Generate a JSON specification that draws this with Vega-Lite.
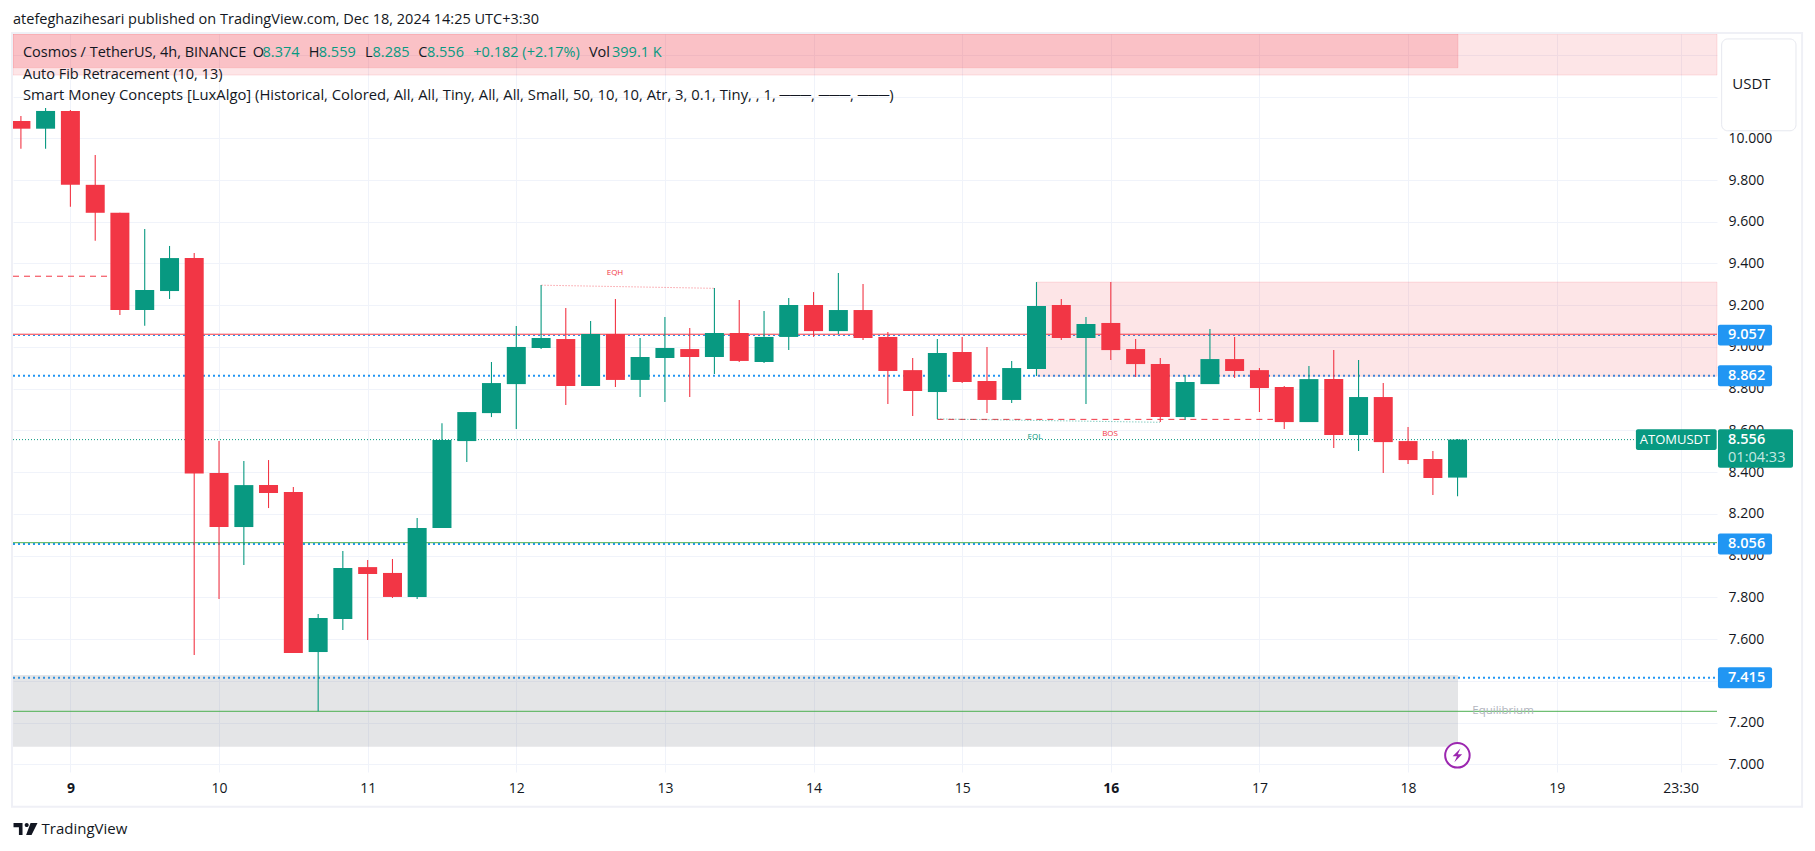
{"$schema":"https://vega.github.io/schema/vega-lite/v6.json","width":1704,"height":738,"autosize":"none","padding":{"left":13,"top":34,"right":98,"bottom":79},"background":"white","config":{"view":{"stroke":null}},
"datasets":{"candles":[
{"x":8.667,"o":10.083,"h":10.107,"l":9.95,"c":10.046,"dir":"down"},
{"x":8.833,"o":10.046,"h":10.145,"l":9.95,"c":10.131,"dir":"up"},
{"x":9,"o":10.131,"h":10.135,"l":9.672,"c":9.777,"dir":"down"},
{"x":9.167,"o":9.777,"h":9.92,"l":9.509,"c":9.643,"dir":"down"},
{"x":9.333,"o":9.643,"h":9.643,"l":9.153,"c":9.177,"dir":"down"},
{"x":9.5,"o":9.177,"h":9.565,"l":9.102,"c":9.273,"dir":"up"},
{"x":9.667,"o":9.268,"h":9.484,"l":9.23,"c":9.426,"dir":"up"},
{"x":9.833,"o":9.426,"h":9.45,"l":7.524,"c":8.393,"dir":"down"},
{"x":10,"o":8.396,"h":8.549,"l":7.792,"c":8.137,"dir":"down"},
{"x":10.167,"o":8.137,"h":8.453,"l":7.955,"c":8.338,"dir":"up"},
{"x":10.333,"o":8.338,"h":8.458,"l":8.228,"c":8.3,"dir":"down"},
{"x":10.5,"o":8.305,"h":8.329,"l":7.533,"c":7.533,"dir":"down"},
{"x":10.667,"o":7.538,"h":7.72,"l":7.254,"c":7.701,"dir":"up"},
{"x":10.833,"o":7.696,"h":8.022,"l":7.644,"c":7.941,"dir":"up"},
{"x":11,"o":7.945,"h":7.979,"l":7.596,"c":7.912,"dir":"down"},
{"x":11.167,"o":7.917,"h":7.984,"l":7.797,"c":7.802,"dir":"down"},
{"x":11.333,"o":7.802,"h":8.18,"l":7.792,"c":8.132,"dir":"up"},
{"x":11.5,"o":8.132,"h":8.635,"l":8.132,"c":8.554,"dir":"up"},
{"x":11.667,"o":8.549,"h":8.688,"l":8.449,"c":8.688,"dir":"up"},
{"x":11.833,"o":8.683,"h":8.928,"l":8.664,"c":8.827,"dir":"up"},
{"x":12,"o":8.822,"h":9.1,"l":8.607,"c":9,"dir":"up"},
{"x":12.167,"o":8.995,"h":9.297,"l":8.99,"c":9.043,"dir":"up"},
{"x":12.333,"o":9.038,"h":9.187,"l":8.722,"c":8.813,"dir":"down"},
{"x":12.5,"o":8.813,"h":9.124,"l":8.813,"c":9.062,"dir":"up"},
{"x":12.667,"o":9.062,"h":9.23,"l":8.808,"c":8.842,"dir":"down"},
{"x":12.833,"o":8.842,"h":9.043,"l":8.76,"c":8.952,"dir":"up"},
{"x":13,"o":8.947,"h":9.143,"l":8.736,"c":8.995,"dir":"up"},
{"x":13.167,"o":8.99,"h":9.091,"l":8.76,"c":8.952,"dir":"down"},
{"x":13.333,"o":8.952,"h":9.282,"l":8.87,"c":9.067,"dir":"up"},
{"x":13.5,"o":9.067,"h":9.225,"l":8.928,"c":8.933,"dir":"down"},
{"x":13.667,"o":8.928,"h":9.172,"l":8.923,"c":9.048,"dir":"up"},
{"x":13.833,"o":9.048,"h":9.235,"l":8.985,"c":9.201,"dir":"up"},
{"x":14,"o":9.201,"h":9.263,"l":9.048,"c":9.076,"dir":"down"},
{"x":14.167,"o":9.076,"h":9.354,"l":9.062,"c":9.177,"dir":"up"},
{"x":14.333,"o":9.177,"h":9.302,"l":9.033,"c":9.043,"dir":"down"},
{"x":14.5,"o":9.048,"h":9.072,"l":8.727,"c":8.885,"dir":"down"},
{"x":14.667,"o":8.889,"h":8.947,"l":8.669,"c":8.789,"dir":"down"},
{"x":14.833,"o":8.784,"h":9.038,"l":8.655,"c":8.971,"dir":"up"},
{"x":15,"o":8.976,"h":9.048,"l":8.827,"c":8.832,"dir":"down"},
{"x":15.167,"o":8.837,"h":9,"l":8.683,"c":8.746,"dir":"down"},
{"x":15.333,"o":8.746,"h":8.933,"l":8.731,"c":8.899,"dir":"up"},
{"x":15.5,"o":8.894,"h":9.311,"l":8.861,"c":9.196,"dir":"up"},
{"x":15.667,"o":9.201,"h":9.23,"l":9.033,"c":9.043,"dir":"down"},
{"x":15.833,"o":9.043,"h":9.143,"l":8.727,"c":9.11,"dir":"up"},
{"x":16,"o":9.115,"h":9.311,"l":8.937,"c":8.985,"dir":"down"},
{"x":16.167,"o":8.99,"h":9.038,"l":8.856,"c":8.918,"dir":"down"},
{"x":16.333,"o":8.918,"h":8.947,"l":8.64,"c":8.664,"dir":"down"},
{"x":16.5,"o":8.664,"h":8.866,"l":8.65,"c":8.832,"dir":"up"},
{"x":16.667,"o":8.822,"h":9.086,"l":8.822,"c":8.942,"dir":"up"},
{"x":16.833,"o":8.942,"h":9.048,"l":8.851,"c":8.885,"dir":"down"},
{"x":17,"o":8.889,"h":8.899,"l":8.688,"c":8.803,"dir":"down"},
{"x":17.167,"o":8.808,"h":8.813,"l":8.607,"c":8.64,"dir":"down"},
{"x":17.333,"o":8.64,"h":8.909,"l":8.64,"c":8.846,"dir":"up"},
{"x":17.5,"o":8.846,"h":8.985,"l":8.516,"c":8.578,"dir":"down"},
{"x":17.667,"o":8.578,"h":8.937,"l":8.501,"c":8.76,"dir":"up"},
{"x":17.833,"o":8.76,"h":8.827,"l":8.396,"c":8.544,"dir":"down"},
{"x":18,"o":8.549,"h":8.616,"l":8.439,"c":8.458,"dir":"down"},
{"x":18.167,"o":8.463,"h":8.501,"l":8.29,"c":8.372,"dir":"down"},
{"x":18.333,"o":8.374,"h":8.559,"l":8.285,"c":8.556,"dir":"up"}
]},
"encoding":{
"x":{"field":"x","type":"quantitative","title":null,"scale":{"domain":[8.6138,20.0786],"nice":false,"zero":false,"padding":0},"axis":{"values":[9,10,11,12,13,14,15,16,17,18,19,19.834],"labelExpr":"datum.value>19.5?'23:30':format(datum.value,'d')","title":null,"domain":false,"ticks":false,"grid":true,"gridColor":"#f0f3fa","gridWidth":1,"labelFont":"Open Sans","labelFontSize":14,"labelColor":"#131722","labelPadding":9,"labelOverlap":false,"labelFontWeight":{"expr":"datum.value==9||datum.value==16?'bold':'normal'"}}},
"y":{"field":"y","type":"quantitative","title":null,"scale":{"domain":[6.9631,10.4998],"nice":false,"zero":false},"axis":{"orient":"right","values":[7,7.2,7.4,7.6,7.8,8,8.2,8.4,8.6,8.8,9,9.2,9.4,9.6,9.8,10,10.2,10.4],"format":".3f","title":null,"domain":false,"ticks":false,"grid":true,"gridColor":"#f0f3fa","gridWidth":1,"labelFont":"Open Sans","labelFontSize":14,"labelColor":"#131722","labelPadding":11,"labelOverlap":false,"labelAlign":"left","labelBaseline":"middle"}}
},
"layer":[
{"data":{"values":[{"x":8.6138,"x2":20.0786,"y":8.862},{"x":8.6138,"x2":20.0786,"y":8.056},{"x":8.6138,"x2":20.0786,"y":7.415}]},"mark":{"type":"rule","color":"#2196f3","strokeWidth":2,"strokeDash":[2,3]},"encoding":{"x2":{"field":"x2"}}},
{"data":{"values":[{"x":8.6138,"x2":20.0786,"y":9.055}]},"mark":{"type":"rule","color":"#2196f3","strokeWidth":1.2,"strokeDash":[2,3]},"encoding":{"x2":{"field":"x2"}}},
{"data":{"values":[{"x":8.6138,"x2":20.0786,"y":10.4998,"y2":10.303},{"x":8.6138,"x2":18.336,"y":10.4998,"y2":10.338},{"x":15.499,"x2":20.0786,"y":9.311,"y2":8.86}]},"mark":{"type":"rect","fill":"#f23645","fillOpacity":0.13,"stroke":"#f23645","strokeOpacity":0.13,"strokeWidth":1},"encoding":{"x2":{"field":"x2"},"y2":{"field":"y2"}}},
{"data":{"values":[{"x":8.6138,"x2":18.336,"y":7.428,"y2":7.084}]},"mark":{"type":"rect","fill":"#787b86","fillOpacity":0.2},"encoding":{"x2":{"field":"x2"},"y2":{"field":"y2"}}},
{"data":{"values":[{"x":8.6138,"x2":18.336,"y":10.4998,"y2":10.338}]},"mark":{"type":"rect","fill":"#f23645","fillOpacity":0.08},"encoding":{"x2":{"field":"x2"},"y2":{"field":"y2"}}},
{"data":{"values":[{"x":8.6138,"x2":20.0786,"y":9.061}]},"mark":{"type":"rule","color":"#f23645","strokeWidth":1},"encoding":{"x2":{"field":"x2"}}},
{"data":{"values":[{"x":8.6138,"x2":20.0786,"y":8.062},{"x":8.6138,"x2":20.0786,"y":7.254}]},"mark":{"type":"rule","color":"#4caf50","strokeWidth":1},"encoding":{"x2":{"field":"x2"}}},
{"data":{"values":[{"x":8.6138,"x2":19.533,"y":8.556}]},"mark":{"type":"rule","color":"#089981","strokeWidth":1,"strokeDash":[1,2]},"encoding":{"x2":{"field":"x2"}}},
{"data":{"values":[{"x":8.6138,"x2":9.3,"y":9.339}]},"mark":{"type":"rule","color":"#f23645","strokeWidth":1,"strokeDash":[6,5]},"encoding":{"x2":{"field":"x2"}}},
{"data":{"values":[{"x":14.833,"x2":17.091,"y":8.653}]},"mark":{"type":"rule","color":"#f23645","strokeWidth":1,"strokeDash":[6,5]},"encoding":{"x2":{"field":"x2"}}},
{"data":{"values":[{"x":12.17,"x2":13.332,"y":9.296,"y2":9.281}]},"mark":{"type":"rule","color":"#f23645","strokeWidth":1,"strokeDash":[1,2],"opacity":0.7},"encoding":{"x2":{"field":"x2"},"y2":{"field":"y2"}}},
{"data":{"values":[{"x":14.833,"x2":16.331,"y":8.655,"y2":8.639}]},"mark":{"type":"rule","color":"#089981","strokeWidth":1,"strokeDash":[1,2],"opacity":0.7},"encoding":{"x2":{"field":"x2"},"y2":{"field":"y2"}}},
{"data":{"name":"candles"},"mark":{"type":"rule","strokeWidth":1.1},"encoding":{"y":{"field":"l","type":"quantitative","title":null,"scale":{"domain":[6.9631,10.4998],"nice":false,"zero":false},"axis":{"orient":"right","values":[7,7.2,7.4,7.6,7.8,8,8.2,8.4,8.6,8.8,9,9.2,9.4,9.6,9.8,10,10.2,10.4],"format":".3f","title":null,"domain":false,"ticks":false,"grid":true,"gridColor":"#f0f3fa","gridWidth":1,"labelFont":"Open Sans","labelFontSize":14,"labelColor":"#131722","labelPadding":11,"labelOverlap":false,"labelAlign":"left","labelBaseline":"middle"}},"y2":{"field":"h"},"color":{"field":"dir","type":"nominal","legend":null,"scale":{"domain":["up","down"],"range":["#089981","#f23645"]}}}},
{"data":{"name":"candles"},"mark":{"type":"bar","size":19,"orient":"vertical"},"encoding":{"y":{"field":"o","type":"quantitative","title":null,"scale":{"domain":[6.9631,10.4998],"nice":false,"zero":false},"axis":{"orient":"right","values":[7,7.2,7.4,7.6,7.8,8,8.2,8.4,8.6,8.8,9,9.2,9.4,9.6,9.8,10,10.2,10.4],"format":".3f","title":null,"domain":false,"ticks":false,"grid":true,"gridColor":"#f0f3fa","gridWidth":1,"labelFont":"Open Sans","labelFontSize":14,"labelColor":"#131722","labelPadding":11,"labelOverlap":false,"labelAlign":"left","labelBaseline":"middle"}},"y2":{"field":"c"},"color":{"field":"dir","type":"nominal","legend":null,"scale":{"domain":["up","down"],"range":["#089981","#f23645"]}}}},
{"data":{"values":[{"x":8.607,"x2":20.651,"y":10.504,"y2":6.797}]},"mark":{"type":"rect","fill":null,"stroke":"#eff0f6","strokeWidth":2},"encoding":{"x2":{"field":"x2"},"y2":{"field":"y2"}}},
{"data":{"values":[{"x":20.11,"x2":20.61,"y":10.476,"y2":10.036}]},"mark":{"type":"rect","fill":"white","stroke":"#e6e8ef","strokeWidth":1,"cornerRadius":6},"encoding":{"x2":{"field":"x2"},"y2":{"field":"y2"}}},
{"data":{"values":[{"x":20.085,"x2":20.449,"y":9.107,"y2":9.007},{"x":20.085,"x2":20.449,"y":8.912,"y2":8.812},{"x":20.085,"x2":20.449,"y":8.106,"y2":8.006},{"x":20.085,"x2":20.449,"y":7.465,"y2":7.365}]},"mark":{"type":"rect","fill":"#2196f3","cornerRadius":2},"encoding":{"x2":{"field":"x2"},"y2":{"field":"y2"}}},
{"data":{"values":[{"x":20.085,"x2":20.59,"y":8.606,"y2":8.421},{"x":19.533,"x2":20.0765,"y":8.606,"y2":8.506}]},"mark":{"type":"rect","fill":"#089981","cornerRadius":2},"encoding":{"x2":{"field":"x2"},"y2":{"field":"y2"}}},
{"data":{"values":[{"x":20.153,"y":9.055,"t":"9.057"},{"x":20.153,"y":8.862,"t":"8.862"},{"x":20.153,"y":8.056,"t":"8.056"},{"x":20.153,"y":7.415,"t":"7.415"},{"x":20.153,"y":8.556,"t":"8.556"}]},"mark":{"type":"text","align":"left","baseline":"middle","font":"Open Sans","fontSize":14.5,"fontWeight":600,"color":"white"},"encoding":{"text":{"field":"t"}}},
{"data":{"values":[{"x":20.153,"y":8.468,"t":"01:04:33"}]},"mark":{"type":"text","align":"left","baseline":"middle","font":"Open Sans","fontSize":14.5,"color":"#c5e8e1"},"encoding":{"text":{"field":"t"}}},
{"data":{"values":[{"x":19.796,"y":8.556,"t":"ATOMUSDT"}]},"mark":{"type":"text","align":"center","baseline":"middle","font":"Open Sans","fontSize":13,"color":"white"},"encoding":{"text":{"field":"t"}}},
{"data":{"values":[{"x":20.31,"y":10.259,"t":"USDT"}]},"mark":{"type":"text","align":"center","baseline":"middle","font":"Open Sans","fontSize":15,"color":"#131722"},"encoding":{"text":{"field":"t"}}},
{"data":{"values":[{"x":8.614,"y":10.567,"t":"atefeghazihesari published on TradingView.com, Dec 18, 2024 14:25 UTC+3:30"},{"x":8.681,"y":10.409,"t":"Cosmos / TetherUS, 4h, BINANCE"},{"x":8.681,"y":10.303,"t":"Auto Fib Retracement (10, 13)"},{"x":10.227,"y":10.409,"t":"O"},{"x":10.604,"y":10.409,"t":"H"},{"x":10.982,"y":10.409,"t":"L"},{"x":11.341,"y":10.409,"t":"C"},{"x":12.489,"y":10.409,"t":"Vol"}]},"mark":{"type":"text","align":"left","baseline":"middle","font":"Open Sans","fontSize":14.5,"color":"#131722"},"encoding":{"text":{"field":"t"}}},
{"data":{"values":[{"x":8.681,"y":10.202,"t":"Smart Money Concepts [LuxAlgo] (Historical, Colored, All, All, Tiny, All, All, Small, 50, 10, 10, Atr, 3, 0.1, Tiny, , 1, ───, ───, ───)"}]},"mark":{"type":"text","align":"left","baseline":"middle","font":"Open Sans","fontSize":14.8,"color":"#131722"},"encoding":{"text":{"field":"t"}}},
{"data":{"values":[{"x":10.293,"y":10.409,"t":"8.374"},{"x":10.671,"y":10.409,"t":"8.559"},{"x":11.033,"y":10.409,"t":"8.285"},{"x":11.399,"y":10.409,"t":"8.556"},{"x":11.711,"y":10.409,"t":"+0.182 (+2.17%)"},{"x":12.644,"y":10.409,"t":"399.1 K"}]},"mark":{"type":"text","align":"left","baseline":"middle","font":"Open Sans","fontSize":14.5,"color":"#089981"},"encoding":{"text":{"field":"t"}}},
{"data":{"values":[{"x":12.664,"y":9.354,"t":"EQH"},{"x":15.995,"y":8.583,"t":"BOS"}]},"mark":{"type":"text","align":"center","baseline":"middle","font":"Open Sans","fontSize":8,"color":"#f23645"},"encoding":{"text":{"field":"t"}}},
{"data":{"values":[{"x":15.49,"y":8.568,"t":"EQL"}]},"mark":{"type":"text","align":"center","baseline":"middle","font":"Open Sans","fontSize":8,"color":"#089981"},"encoding":{"text":{"field":"t"}}},
{"data":{"values":[{"x":18.639,"y":7.257,"t":"Equilibrium"}]},"mark":{"type":"text","align":"center","baseline":"middle","font":"Open Sans","fontSize":11.5,"color":"#b2b5be"},"encoding":{"text":{"field":"t"}}},
{"data":{"values":[{"x":8.806,"y":6.69,"t":"TradingView"}]},"mark":{"type":"text","align":"left","baseline":"middle","font":"Open Sans","fontSize":15,"color":"#131722"},"encoding":{"text":{"field":"t"}}},
{"data":{"values":[{"x":8.698,"y":6.69}]},"mark":{"type":"point","filled":true,"color":"#131722","opacity":1,"size":576,"shape":"M -1 -0.5 L -0.25 -0.5 L -0.25 0.5 L -0.55 0.5 L -0.55 -0.14 L -1 -0.14 Z M 0.1 -0.5 A 0.17 0.17 0 1 1 0.1 -0.16 A 0.17 0.17 0 1 1 0.1 -0.5 Z M 0.42 -0.5 L 1 -0.5 L 0.5 0.5 L 0.05 0.5 Z"}},
{"data":{"values":[{"x":18.332,"y":7.043}]},"mark":{"type":"point","filled":false,"fill":"white","fillOpacity":1,"stroke":"#9c27b0","strokeWidth":2,"opacity":1,"shape":"circle","size":600}},
{"data":{"values":[{"x":18.332,"y":7.043}]},"mark":{"type":"point","filled":true,"color":"#9c27b0","opacity":1,"size":300,"shape":"M 0.35 -0.8 L -0.55 0.12 L -0.05 0.12 L -0.35 0.8 L 0.55 -0.12 L 0.05 -0.12 Z"}}
]}
